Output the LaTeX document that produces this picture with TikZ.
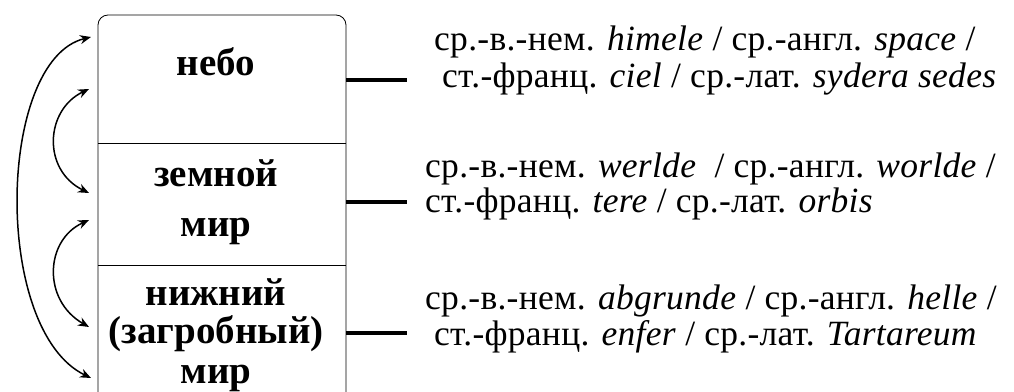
\documentclass[tikz,border=0pt]{standalone}
\usepackage{fontspec}
\newfontfamily\serifface{Liberation Serif}[BoldFont={Liberation Serif Bold},ItalicFont={Liberation Serif Italic}]
\newcommand\worldtext[1]{{\serifface\fontsize{39}{40}\selectfont\bfseries #1}}
\newcommand\glosstext[1]{{\serifface\fontsize{35.5}{40}\selectfont\addfontfeatures{LetterSpace=0.8}#1}}
\usetikzlibrary{arrows.meta}
\begin{document}
\begin{tikzpicture}[x=1pt,y=-1pt,
  world/.style={anchor=base, inner sep=0pt},
  gloss/.style={anchor=base west, inner sep=0pt},
  tick/.style={line width=3.2pt},
  link/.style={line width=1.5pt, {Stealth[length=11pt,width=9pt]}-{Stealth[length=11pt,width=9pt]}}]
\useasboundingbox (0,0) rectangle (1014,391);
% the three-tier box, open at the bottom
\draw[line width=0.8pt, rounded corners=10pt] (98,400) -- (98,15) -- (346,15) -- (346,400);
\draw[line width=0.6pt] (98,143) -- (346,143);
\draw[line width=0.6pt] (98,265) -- (346,265);
\node[world] (sky) at (216,75) {\worldtext{небо}};
\node[world] (earth1) at (216,186) {\worldtext{земной}};
\node[world] (earth2) at (216,236) {\worldtext{мир}};
\node[world] (under1) at (216,305) {\worldtext{нижний}};
\node[world] (under2) at (216,343) {\worldtext{(загробный)}};
\node[world] (under3) at (216,383) {\worldtext{мир}};
% anchor points for the links on the left edge
\coordinate (a1) at (91,37);
\coordinate (a2) at (91,378);
\coordinate (b1) at (89,89);
\coordinate (b2) at (89,193);
\coordinate (c1) at (89,220);
\coordinate (c2) at (89,327);
\draw[link] (a1) .. controls (-3,60) and (-8,330) .. (a2);
\draw[link] (b1) .. controls (45,110) and (42,170) .. (b2);
\draw[link] (c1) .. controls (45,240) and (42,300) .. (c2);
% connectors to the glosses
\coordinate (t1) at (407,80);
\coordinate (t2) at (407,202);
\coordinate (t3) at (407,333);
\draw[tick] (346,80) -- (t1);
\draw[tick] (346,202) -- (t2);
\draw[tick] (346,333) -- (t3);
\node[gloss] (g1a) at (434,50) {\glosstext{ср.-в.-нем. \textit{himele} / ср.-англ. \textit{space} /}};
\node[gloss] (g1b) at (442,87) {\glosstext{ст.-франц. \textit{ciel} / ср.-лат. \textit{sydera sedes}}};
\node[gloss] (g2a) at (425,177) {\glosstext{ср.-в.-нем. \textit{werlde}\ \ / ср.-англ. \textit{worlde} /}};
\node[gloss] (g2b) at (425,212) {\glosstext{ст.-франц. \textit{tere} / ср.-лат. \textit{orbis}}};
\node[gloss] (g3a) at (425,309) {\glosstext{ср.-в.-нем. \textit{abgrunde} / ср.-англ. \textit{helle} /}};
\node[gloss] (g3b) at (434,345) {\glosstext{ст.-франц. \textit{enfer} / ср.-лат. \textit{Tartareum}}};
\end{tikzpicture}
\end{document}
